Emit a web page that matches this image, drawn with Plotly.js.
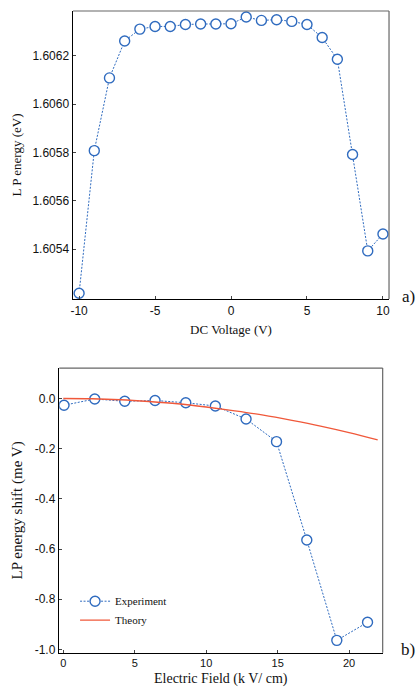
<!DOCTYPE html>
<html>
<head>
<meta charset="utf-8">
<script src="https://cdn.plot.ly/plotly-3.0.1.min.js"></script>
<style>html,body{margin:0;padding:0;background:#fff;}#chart{width:417px;height:687px;}</style>
</head>
<body>
<div id="chart"></div>
<script>
// Panel a) data
const dcVoltage = [-10,-9,-8,-7,-6,-5,-4,-3,-2,-1,0,1,2,3,4,5,6,7,8,9,10];
const lpEnergy = [1.605218,1.605808,1.606109,1.606262,1.606311,1.606322,1.606322,1.606330,1.606332,1.606332,1.606333,1.606361,1.606347,1.606350,1.606343,1.606330,1.606276,1.606186,1.605792,1.605393,1.605463];
const topYTicks = [1.6054,1.6056,1.6058,1.6060,1.6062];
const topYTickText = ["1.6054","1.6056","1.6058","1.6060","1.6062"];
const topXTicks = [-10,-5,0,5,10];

// Panel b) data
const fieldExp = [0.05,2.2,4.3,6.42,8.57,10.64,12.79,14.92,17.04,19.14,21.29];
const shiftExp = [-0.027,-0.002,-0.011,-0.008,-0.017,-0.030,-0.082,-0.172,-0.564,-0.964,-0.892];
const fieldTheory = [0,2,4,6,8,10,12,14,16,18,20,22];
const shiftTheory = [0,-0.001,-0.005,-0.012,-0.021,-0.034,-0.049,-0.066,-0.087,-0.110,-0.136,-0.165];
const botYTicks = [0,-0.2,-0.4,-0.6,-0.8,-1.0];
const botYTickText = ["0.0","-0.2","-0.4","-0.6","-0.8","-1.0"];
const botXTicks = [0,5,10,15,20];

const blue = '#2f6bbf';
const red = '#f0583a';
const serif = '"Liberation Serif", "Times New Roman", serif';
const sans = '"Liberation Sans", Arial, sans-serif';

const expMarker = {symbol:'circle', size:10, color:'#fff', line:{width:1.4, color:blue}};
const traces = [
  {x: dcVoltage, y: lpEnergy, xaxis:'x', yaxis:'y', mode:'lines+markers', showlegend:false,
   line:{color:blue, width:1, dash:'2px,1.5px'}, marker:expMarker},
  {x: fieldExp, y: shiftExp, xaxis:'x2', yaxis:'y2', mode:'lines+markers', name:'Experiment',
   line:{color:blue, width:1, dash:'2px,1.5px'}, marker:expMarker},
  {x: fieldTheory, y: shiftTheory, xaxis:'x2', yaxis:'y2', mode:'lines', name:'Theory',
   line:{color:red, width:1.3, shape:'spline'}}
];

const axBase = {showgrid:false, zeroline:false, showline:true, linecolor:'#000', linewidth:1.5,
  ticks:'inside', ticklen:3, tickcolor:'#444', tickfont:{family:sans, size:12, color:'#111'}, mirror:false};

const layout = {
  width:417, height:687,
  margin:{l:0, r:0, t:0, b:0},
  paper_bgcolor:'#fff', plot_bgcolor:'#fff',
  xaxis: Object.assign({}, axBase, {domain:[0.1751,0.9329], anchor:'y', range:[-10.4,10.4],
    tickvals:topXTicks, ticktext:topXTicks.map(String),
    title:{text:'DC Voltage (V)', font:{family:serif, size:13, color:'#111'}, standoff:8}}),
  yaxis: Object.assign({}, axBase, {domain:[0.5648,0.984], anchor:'x', range:[1.605194,1.606386],
    tickvals:topYTicks, ticktext:topYTickText,
    title:{text:'L P energy (eV)', font:{family:serif, size:13, color:'#111'}, standoff:8}}),
  xaxis2: Object.assign({}, axBase, {domain:[0.1422,0.9177], anchor:'y2', range:[-0.28,22.35],
    tickvals:botXTicks, ticktext:botXTicks.map(String), tickfont:{family:sans, size:11, color:'#111'}}),
  yaxis2: Object.assign({}, axBase, {domain:[0.0499,0.4643], anchor:'x2', range:[-1.0133,0.1214],
    tickvals:botYTicks, ticktext:botYTickText,
    title:{text:'LP energy shift (me V)', font:{family:serif, size:15, color:'#111'}, standoff:8}}),
  showlegend:true,
  legend:{x:0.18, y:0.146, xanchor:'left', yanchor:'top', bgcolor:'rgba(0,0,0,0)',
    font:{family:serif, size:11, color:'#111'}, itemwidth:30, tracegroupgap:0},
  shapes:[
    {type:'line', xref:'x domain', yref:'y domain', x0:0, x1:1, y0:1, y1:1, line:{color:'#666', width:1.2}},
    {type:'line', xref:'x domain', yref:'y domain', x0:1, x1:1, y0:0, y1:1, line:{color:'#666', width:1.2}},
    {type:'line', xref:'x2 domain', yref:'y2 domain', x0:0, x1:1, y0:1, y1:1, line:{color:'#666', width:1.2}},
    {type:'line', xref:'x2 domain', yref:'y2 domain', x0:1, x1:1, y0:0, y1:1, line:{color:'#666', width:1.2}}
  ],
  annotations:[
    {text:'Electric Field (k V/ cm)', xref:'x2 domain', yref:'paper', x:0.5, y:0.0, xanchor:'center', yanchor:'bottom',
     yshift:-1, borderpad:0, showarrow:false, font:{family:serif, size:14, color:'#111'}},
    {text:'a)', xref:'paper', yref:'paper', x:1, y:0.569, xanchor:'right', yanchor:'middle', showarrow:false,
     font:{family:serif, size:17, color:'#111'}},
    {text:'b)', xref:'paper', yref:'paper', x:1, y:0.055, xanchor:'right', yanchor:'middle', showarrow:false,
     font:{family:serif, size:17, color:'#111'}}
  ]
};

Plotly.newPlot('chart', traces, layout, {displayModeBar:false, staticPlot:true});
</script>
</body>
</html>
